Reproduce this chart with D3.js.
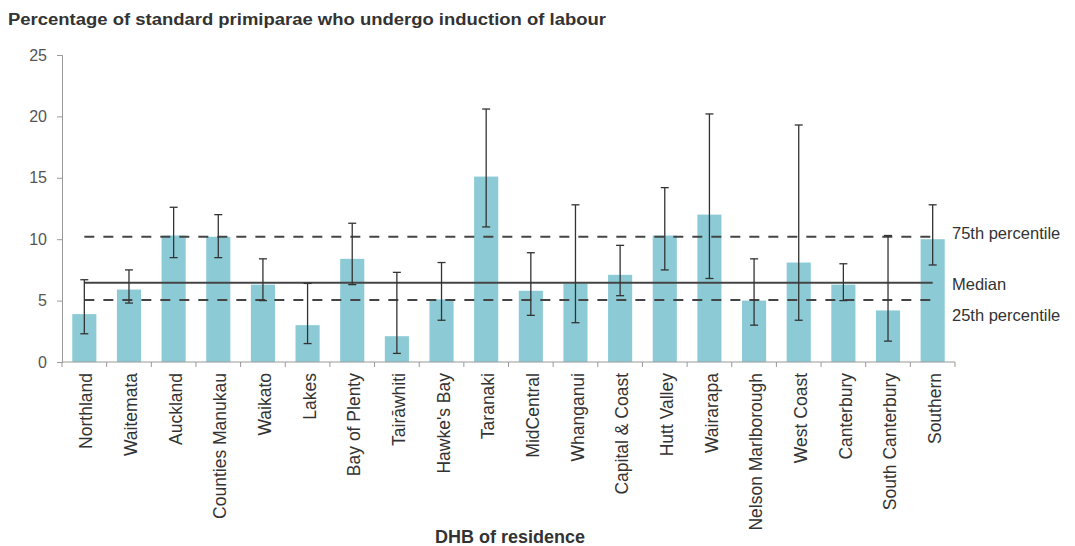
<!DOCTYPE html>
<html>
<head>
<meta charset="utf-8">
<script src="https://cdn.jsdelivr.net/npm/d3@7"></script>
<style>
  body { margin: 0; background: #fff; }
  text { font-family: "Liberation Sans", Arial, sans-serif; }
</style>
</head>
<body>
<svg></svg>
<script>
const WIDTH = 1075;
const HEIGHT = 546;

const dhbs = ['Northland', 'Waitemata', 'Auckland', 'Counties Manukau', 'Waikato', 'Lakes',
  'Bay of Plenty', 'Tairāwhiti', "Hawke's Bay", 'Taranaki', 'MidCentral', 'Whanganui',
  'Capital & Coast', 'Hutt Valley', 'Wairarapa', 'Nelson Marlborough', 'West Coast',
  'Canterbury', 'South Canterbury', 'Southern'];
const rates = [3.9, 5.9, 10.3, 10.2, 6.3, 3.0, 8.4, 2.1, 5.1, 15.1, 5.8, 6.4, 7.1, 10.3,
  12.0, 5.0, 8.1, 6.3, 4.2, 10.0];
const lower = [2.3, 4.8, 8.5, 8.5, 5.0, 1.5, 6.3, 0.7, 3.4, 11.0, 3.8, 3.2, 5.4, 7.5,
  6.8, 3.0, 3.4, 5.0, 1.7, 7.9];
const upper = [6.7, 7.5, 12.6, 12.0, 8.4, 6.4, 11.3, 7.3, 8.1, 20.6, 8.9, 12.8, 9.5, 14.2,
  20.2, 8.4, 19.3, 8.0, 10.3, 12.8];
const yTicks = [0, 5, 10, 15, 20, 25];
const refLines = [
  {name: '75th percentile', value: 10.2, dashed: true},
  {name: 'Median', value: 6.45, dashed: false},
  {name: '25th percentile', value: 5.05, dashed: true},
];

window.onload = () => {
  const svg = d3.select('svg')
      .attr('width', WIDTH)
      .attr('height', HEIGHT);

  const margin = {left: 62, right: 120, top: 55, bottom: 184};
  const x = d3.scaleBand()
      .domain(dhbs)
      .range([margin.left, WIDTH - margin.right])
      .paddingInner(0.46)
      .paddingOuter(0.23);
  const y = d3.scaleLinear()
      .domain([0, 25])
      .range([HEIGHT - margin.bottom, margin.top]);

  svg.append('text')
      .attr('x', 8)
      .attr('y', 25)
      .attr('font-size', 16)
      .attr('font-weight', 'bold')
      .attr('fill', '#333')
      .attr('textLength', 598)
      .attr('lengthAdjust', 'spacingAndGlyphs')
      .text('Percentage of standard primiparae who undergo induction of labour');

  // bars
  svg.append('g').selectAll('rect')
      .data(dhbs)
      .join('rect')
      .attr('x', (d) => x(d))
      .attr('y', (d, i) => y(rates[i]))
      .attr('width', x.bandwidth())
      .attr('height', (d, i) => y(0) - y(rates[i]))
      .attr('fill', '#8ccbd6');

  // reference lines
  const first = x(dhbs[0]) + x.bandwidth() / 2;
  const last = x(dhbs[dhbs.length - 1]) + x.bandwidth() / 2;
  const refs = svg.append('g');
  refs.selectAll('line')
      .data(refLines)
      .join('line')
      .attr('x1', first)
      .attr('x2', last)
      .attr('y1', (d) => y(d.value))
      .attr('y2', (d) => y(d.value))
      .attr('stroke', '#444')
      .attr('stroke-width', 2)
      .attr('stroke-dasharray', (d) => d.dashed ? '10,9' : null);
  const labelY = [y(10.2) - 4, y(6.45) + 1, y(5.05) + 15];
  refs.selectAll('text')
      .data(refLines)
      .join('text')
      .attr('x', 952)
      .attr('y', (d, i) => labelY[i])
      .attr('dy', '0.35em')
      .attr('font-size', 16.5)
      .attr('fill', '#333')
      .text((d) => d.name);

  // error bars
  const err = svg.append('g')
      .attr('stroke', '#333')
      .attr('stroke-width', 1.3);
  dhbs.forEach((d, i) => {
    const cx = x(d) + x.bandwidth() / 2;
    err.append('line')
        .attr('x1', cx).attr('x2', cx)
        .attr('y1', y(lower[i])).attr('y2', y(upper[i]));
    [lower[i], upper[i]].forEach((v) => {
      err.append('line')
          .attr('x1', cx - 4).attr('x2', cx + 4)
          .attr('y1', y(v)).attr('y2', y(v));
    });
  });

  // y axis
  const yAxis = svg.append('g')
      .attr('transform', `translate(${margin.left},0)`)
      .call(d3.axisLeft(y).tickValues(yTicks).tickSize(5).tickPadding(10));
  yAxis.select('.domain').attr('stroke', '#999');
  yAxis.selectAll('.tick line').attr('stroke', '#999');
  yAxis.selectAll('.tick text')
      .attr('font-size', 16)
      .attr('fill', '#555')
      .attr('font-family', '"Liberation Sans", Arial, sans-serif');

  // x axis with ticks between categories
  const xAxis = svg.append('g')
      .attr('transform', `translate(0,${y(0)})`);
  xAxis.append('line')
      .attr('x1', margin.left).attr('x2', WIDTH - margin.right)
      .attr('stroke', '#999');
  xAxis.selectAll('.sep')
      .data(d3.range(dhbs.length + 1))
      .join('line')
      .attr('class', 'sep')
      .attr('x1', (i) => margin.left + i * (WIDTH - margin.right - margin.left) / dhbs.length)
      .attr('x2', (i) => margin.left + i * (WIDTH - margin.right - margin.left) / dhbs.length)
      .attr('y1', 0).attr('y2', 5)
      .attr('stroke', '#999');
  xAxis.selectAll('.lbl')
      .data(dhbs)
      .join('text')
      .attr('class', 'lbl')
      .attr('transform', (d) => `translate(${x(d) + x.bandwidth() / 2 + 2},11) rotate(-90)`)
      .attr('text-anchor', 'end')
      .attr('dy', '0.35em')
      .attr('font-size', 17.5)
      .attr('fill', '#333')
      .text((d) => d);

  svg.append('text')
      .attr('x', 510)
      .attr('y', 543)
      .attr('text-anchor', 'middle')
      .attr('font-size', 18)
      .attr('font-weight', 'bold')
      .attr('fill', '#333')
      .text('DHB of residence');
};
</script>
</body>
</html>
